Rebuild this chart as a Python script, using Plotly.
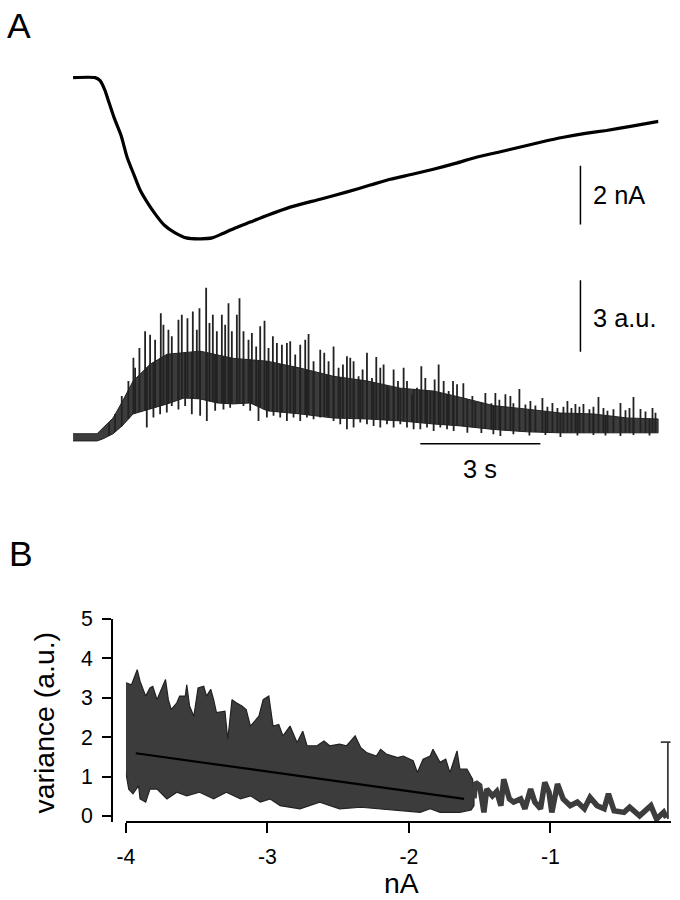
import numpy as np
import plotly.graph_objects as go

W, H = 680, 900

# ---- panel A: whole-cell current (s, nA) ----
t_cur = [0, 0.55, 0.675, 0.8, 0.875, 1.025, 1.2, 1.35, 1.525, 1.675, 1.85, 2.05, 2.275, 2.55,
         2.825, 3.175, 3.475, 3.725, 4.05, 4.425, 4.875, 5.425, 6.175, 6.825, 7.425, 7.925,
         8.475, 9.0, 9.55, 10.075, 10.625, 11.15, 11.675, 12.25, 12.8, 13.325, 13.925, 14.625]
i_cur = [0, 0, -0.10, -0.44, -0.75, -1.36, -1.97, -2.71, -3.32, -3.83, -4.24, -4.64, -5.02, -5.29,
         -5.46, -5.49, -5.46, -5.32, -5.12, -4.92, -4.68, -4.41, -4.14, -3.90, -3.66, -3.46,
         -3.29, -3.12, -2.92, -2.71, -2.54, -2.37, -2.20, -2.03, -1.90, -1.80, -1.66, -1.49]

# ---- panel A: variance trace (s, a.u.) ----
# dense band, upper and lower edge
n_top_t = [0, 0.6, 0.75, 1.0, 1.225, 1.35, 1.5, 1.925, 2.35, 3.175, 4.0, 4.85, 5.675, 6.5, 7.35,
           8.175, 9.0, 9.675, 10.5, 11.35, 12.175, 13.0, 13.85, 14.625]
n_top_v = [0.17, 0.17, 0.42, 0.83, 1.5, 1.9, 2.38, 3.08, 3.5, 3.63, 3.33, 3.21, 2.92, 2.58, 2.38,
           2.08, 1.96, 1.7, 1.35, 1.2, 1.04, 1.0, 0.83, 0.79]
n_bot_t = [0, 0.6, 0.75, 1.0, 1.225, 1.5, 2.35, 2.775, 3.175, 3.6, 4.0, 4.425, 4.85, 5.675, 6.5,
           7.35, 8.175, 9.0, 9.675, 10.5, 11.35, 12.175, 13.0, 13.85, 14.625]
n_bot_v = [-0.13, -0.13, -0.04, 0.17, 0.5, 1.0, 1.42, 1.67, 1.63, 1.46, 1.42, 1.46, 1.13, 1.0,
           0.83, 0.79, 0.71, 0.58, 0.5, 0.35, 0.25, 0.21, 0.21, 0.21, 0.21]
# upward spikes (tops)
sp_t = [0.9, 1.05, 1.217, 1.383, 1.508, 1.55, 1.658, 1.8, 1.925, 2.05, 2.192, 2.258, 2.383, 2.467,
        2.633, 2.717, 2.858, 2.992, 3.092, 3.158, 3.325, 3.408, 3.492, 3.592, 3.717, 3.8, 3.883,
        3.967, 4.092, 4.158, 4.258, 4.383, 4.467, 4.575, 4.675, 4.783, 4.883, 4.992, 5.092,
        5.217, 5.342, 5.425, 5.55, 5.675, 5.8, 5.883, 6.008, 6.175, 6.275, 6.383, 6.508, 6.633,
        6.742, 6.842, 6.925, 7.008, 7.133, 7.233, 7.342, 7.467, 7.575, 7.675, 7.758, 7.883,
        8.008, 8.117, 8.258, 8.342, 8.467, 8.592, 8.7, 8.8, 8.925, 9.033, 9.133, 9.258, 9.383,
        9.492, 9.592, 9.75, 9.975, 10.05, 10.3, 10.45, 10.55, 10.65, 10.8, 10.925, 11.0, 11.15,
        11.3, 11.425, 11.55, 11.725, 11.85, 11.975, 12.1, 12.25, 12.35, 12.45, 12.55, 12.65,
        12.75, 12.9, 13.0, 13.125, 13.25, 13.35, 13.5, 13.675, 13.8, 13.9, 14.0, 14.175, 14.3,
        14.475, 14.55]
sp_v = [0.6, 1.0, 1.75, 2.38, 3.35, 2.93, 3.76, 4.46, 4.32, 4.11, 5.22, 4.74, 4.53, 4.25,
        4.94, 5.15, 5.01, 5.29, 4.53, 5.43, 6.29, 4.81, 5.15, 4.46, 5.15, 4.74, 5.64,
        4.46, 5.15, 5.85, 4.46, 4.11, 4.39, 3.83, 4.67, 4.90, 3.76, 4.25, 3.97,
        3.90, 3.97, 4.04, 3.49, 3.90, 4.11, 4.35, 3.21, 3.69, 3.56, 3.21, 3.83, 2.93,
        3.07, 3.42, 3.35, 3.21, 2.58, 2.86, 3.56, 2.51, 3.38, 2.93, 3.07, 2.10,
        2.86, 2.38, 2.93, 2.38, 1.82, 2.10, 3.0, 2.51, 1.96, 2.44, 3.07, 2.38, 1.96,
        2.38, 2.24, 2.29, 1.75, 1.5, 1.88, 1.45, 1.88, 1.6, 1.83, 1.75, 1.45, 2.04,
        1.4, 1.54, 1.35, 1.67, 1.3, 1.46, 1.25, 1.3, 1.54, 1.25, 1.42, 1.3,
        1.42, 1.2, 1.3, 1.71, 1.25, 1.13, 1.2, 1.46, 1.15, 1.25, 1.71, 1.21, 1.1,
        1.25, 1.05]
# downward spikes (bottoms)
dn_t = [1.842, 2.008, 2.175, 2.342, 2.467, 2.633, 2.8, 2.967, 3.175, 3.342, 3.55, 3.758, 3.925,
        4.258, 4.425, 4.633, 4.842, 5.008, 5.175, 5.342, 5.508, 5.675, 5.842, 6.008, 6.175,
        6.342, 6.508, 6.675, 6.842, 7.008, 7.175, 7.342, 7.508, 7.675, 7.842, 8.008, 8.175,
        8.342, 8.508, 8.675, 8.842, 9.008, 9.175, 9.342, 9.508, 9.85, 10.2, 10.5, 10.675,
        11.0, 11.4, 11.8, 12.175, 12.6, 13.0, 13.3, 13.675, 14.0, 14.4]
dn_v = [0.43, 0.85, 0.99, 1.06, 1.33, 1.19, 1.33, 0.99, 0.92, 0.71, 1.13, 1.19, 1.26,
        1.33, 1.13, 0.71, 0.85, 0.92, 0.85, 0.71, 0.85, 0.71, 0.85, 0.78, 0.85,
        0.92, 0.71, 0.57, 0.36, 0.43, 0.64, 0.57, 0.50, 0.43, 0.57, 0.43, 0.57,
        0.43, 0.36, 0.36, 0.43, 0.29, 0.43, 0.36, 0.29, 0.21, 0.2, 0.15, 0.08,
        0.15, 0.1, 0.12, 0.04, 0.1, 0.12, 0.1, 0.08, 0.12, 0.1]

# ---- panel B: variance vs current (nA, a.u.) ----
b_up_c = [-4.00, -3.96, -3.92, -3.90, -3.86, -3.83, -3.81, -3.78, -3.75, -3.72, -3.70, -3.68,
          -3.64, -3.62, -3.58, -3.57, -3.55, -3.52, -3.49, -3.45, -3.43, -3.40, -3.38, -3.36,
          -3.30, -3.28, -3.25, -3.22, -3.18, -3.15, -3.12, -3.10, -3.06, -3.03, -2.99, -2.96,
          -2.92, -2.89, -2.84, -2.79, -2.75, -2.72, -2.65, -2.60, -2.56, -2.49, -2.44, -2.38,
          -2.34, -2.30, -2.23, -2.20, -2.16, -2.08, -2.04, -1.97, -1.94, -1.90, -1.85, -1.83,
          -1.78, -1.74, -1.71, -1.66, -1.64, -1.59, -1.55, -1.54]
b_up_v = [3.38, 3.33, 3.71, 3.42, 3.04, 3.25, 3.29, 2.95, 3.21, 3.46, 2.95, 2.70,
          2.87, 3.04, 3.04, 3.33, 2.79, 2.53, 3.25, 3.29, 3.04, 3.21, 2.95, 2.62,
          2.66, 1.94, 2.95, 2.87, 2.79, 2.70, 2.28, 2.37, 2.53, 2.95, 3.04, 2.28,
          2.32, 2.03, 2.28, 1.86, 2.15, 1.78, 1.78, 1.90, 1.78, 1.82, 1.78, 2.03,
          1.73, 1.61, 1.52, 1.69, 1.57, 1.48, 1.52, 1.40, 1.10, 1.44, 1.52, 1.69,
          1.36, 1.44, 1.10, 1.65, 1.19, 1.19, 0.93, 0.51]
b_lo_c = [-4.00, -3.98, -3.95, -3.91, -3.90, -3.86, -3.83, -3.78, -3.71, -3.64, -3.57, -3.48,
          -3.38, -3.29, -3.19, -3.12, -3.05, -2.98, -2.91, -2.77, -2.63, -2.49, -2.34, -2.20,
          -2.06, -1.92, -1.85, -1.78, -1.64, -1.56, -1.54]
b_lo_v = [1.10, 0.68, 0.56, 0.77, 0.43, 0.35, 0.68, 0.68, 0.43, 0.60, 0.51, 0.60,
          0.43, 0.60, 0.43, 0.51, 0.35, 0.43, 0.26, 0.18, 0.35, 0.18, 0.22, 0.18,
          0.13, 0.09, 0.18, 0.09, 0.09, 0.15, 0.26]
tail_c = [-1.54, -1.53, -1.50, -1.47, -1.45, -1.41, -1.38, -1.35, -1.33, -1.29, -1.26, -1.21,
          -1.18, -1.14, -1.11, -1.07, -1.04, -1.01, -0.99, -0.95, -0.91, -0.86, -0.81, -0.76,
          -0.72, -0.67, -0.62, -0.59, -0.55, -0.48, -0.44, -0.37, -0.29, -0.25, -0.20, -0.18]
tail_v = [0.45, 0.85, 0.77, 0.09, 0.68, 0.51, 0.62, 0.26, 0.93, 0.43, 0.35, 0.43,
          0.18, 0.68, 0.35, 0.18, 0.85, 0.60, 0.09, 0.81, 0.43, 0.26, 0.35, 0.18,
          0.47, 0.26, 0.18, 0.56, 0.13, 0.09, 0.22, 0.00, 0.26, -0.08, 0.09, -0.05]
end_c, end_lo, end_hi, cap_w = -0.17, -0.08, 1.87, 0.05
fit_c = [-3.93, -1.61]
fit_v = [1.59, 0.43]

# scale bars
bar_nA, bar_au, bar_s = 2, 3, 3

GRAY = "#3c3c3c"
EDGE = "#222222"
FONT = "Liberation Sans"

# the photographed page comes out slightly shrunk and offset; undo that here
SX, OX = 0.986, 9
SY, OY = 0.985, 9


def px(x):
    return (x - OX) / SX / W


def py(y):
    return 1 - (y - OY) / SY / H


def fs(s):
    return round(s / SY, 1)


fig = go.Figure()

# A: current
fig.add_trace(go.Scatter(x=t_cur, y=i_cur, mode="lines",
                         line=dict(color="black", width=3.2, shape="spline", smoothing=0.6),
                         xaxis="x", yaxis="y"))

# A: variance band + spikes
fig.add_trace(go.Scatter(x=n_top_t + n_bot_t[::-1], y=n_top_v + n_bot_v[::-1], fill="toself",
                         fillcolor=GRAY, line=dict(color=EDGE, width=1), mode="lines",
                         xaxis="x", yaxis="y2"))
sx, sy = [], []
foot_up = np.interp(sp_t, n_bot_t, n_bot_v)
for t, v, f in zip(sp_t, sp_v, foot_up):
    sx += [t, t, None]
    sy += [f, v, None]
foot_dn = np.interp(dn_t, n_top_t, n_top_v)
for t, v, f in zip(dn_t, dn_v, foot_dn):
    sx += [t, t, None]
    sy += [f, v, None]
fig.add_trace(go.Scatter(x=sx, y=sy, mode="lines", line=dict(color=EDGE, width=1.8),
                         xaxis="x", yaxis="y2"))

# A: scale bars
xb = 12.675
fig.add_trace(go.Scatter(x=[xb, xb], y=[-3.0, -3.0 - bar_nA], mode="lines",
                         line=dict(color="black", width=1.5), xaxis="x", yaxis="y"))
fig.add_trace(go.Scatter(x=[xb, xb], y=[3.6, 3.6 + bar_au], mode="lines",
                         line=dict(color="black", width=1.5), xaxis="x", yaxis="y2"))
fig.add_trace(go.Scatter(x=[8.675, 8.675 + bar_s], y=[-0.25, -0.25], mode="lines",
                         line=dict(color="black", width=1.5), xaxis="x", yaxis="y2"))

# B: cloud, tail, end spike, fit
fig.add_trace(go.Scatter(x=b_up_c + b_lo_c[::-1], y=b_up_v + b_lo_v[::-1], fill="toself",
                         fillcolor=GRAY, line=dict(color=EDGE, width=1.2), mode="lines",
                         xaxis="x3", yaxis="y3"))
fig.add_trace(go.Scatter(x=tail_c, y=tail_v, mode="lines", line=dict(color=GRAY, width=5.5),
                         xaxis="x3", yaxis="y3"))
fig.add_trace(go.Scatter(x=[end_c, end_c, None, end_c - cap_w, end_c + cap_w],
                         y=[end_lo, end_hi, None, end_hi, end_hi], mode="lines",
                         line=dict(color=GRAY, width=1.8), xaxis="x3", yaxis="y3"))
fig.add_trace(go.Scatter(x=fit_c, y=fit_v, mode="lines", line=dict(color="black", width=2.2),
                         xaxis="x3", yaxis="y3"))

hidden = dict(visible=False, showgrid=False, zeroline=False)
tick_font = dict(family=FONT, size=fs(21), color="black")
fig.update_layout(
    width=W, height=H, margin=dict(l=0, r=0, t=0, b=0),
    paper_bgcolor="white", plot_bgcolor="white", showlegend=False,
    xaxis=dict(domain=[px(73), px(658)], range=[0, 14.625], anchor="y", **hidden),
    yaxis=dict(domain=[py(260), py(40)], range=[-(260 - 75) / 29.5, (75 - 40) / 29.5], anchor="x", **hidden),
    yaxis2=dict(domain=[py(480), py(270)], range=[-43 / 24, 167 / 24], anchor="x", **hidden),
    xaxis3=dict(domain=[px(125.8), px(670)], range=[-4, -4 + (670 - 125.8) / 141.4],
                anchor="free", position=py(823), showgrid=False, zeroline=False,
                showline=True, linecolor="black", linewidth=2, ticks="outside", ticklen=10,
                tickwidth=2, tickcolor="black", tickvals=[-4, -3, -2, -1],
                ticktext=["-4", "-3", "-2", "-1"], tickfont=tick_font, ticklabelstandoff=6),
    yaxis3=dict(domain=[py(823), py(619)], range=[-(823 - 817) / 39.6, 5.0],
                anchor="free", position=px(112), showgrid=False, zeroline=False,
                showline=True, linecolor="black", linewidth=2, ticks="outside", ticklen=9,
                tickwidth=2, tickcolor="black", tickvals=[0, 1, 2, 3, 4, 5],
                tickfont=tick_font, ticklabelstandoff=5),
)

ann = dict(showarrow=False, font=dict(family=FONT, size=fs(25), color="black"))
fig.add_annotation(x=12.93, y=-4.0, xref="x", yref="y", text="2 nA", xanchor="left", yanchor="middle", **ann)
fig.add_annotation(x=12.93, y=5.0, xref="x", yref="y2", text="3 a.u.", xanchor="left", yanchor="middle", **ann)
fig.add_annotation(x=10.175, y=-1.29, xref="x", yref="y2", text="3 s", xanchor="center", yanchor="middle", **ann)

big = dict(showarrow=False, font=dict(family=FONT, size=fs(35), color="black"), xref="paper", yref="paper")
fig.add_annotation(x=px(19), y=py(23), text="A", xanchor="center", yanchor="middle", **big)
fig.add_annotation(x=px(21), y=py(554), text="B", xanchor="center", yanchor="middle", **big)

ttl = dict(showarrow=False, font=dict(family=FONT, size=fs(28), color="black"), xref="paper", yref="paper")
fig.add_annotation(x=px(401), y=py(884), text="nA", xanchor="center", yanchor="middle", **ttl)
fig.add_annotation(x=px(44), y=py(724), text="variance (a.u.)", textangle=-90, xanchor="center", yanchor="middle", **ttl)

# page body has a default margin; remove it so the 680x900 figure fills the window
fig.write_html("out.html", config={"displayModeBar": False},
               post_script="document.body.style.margin='0';")
